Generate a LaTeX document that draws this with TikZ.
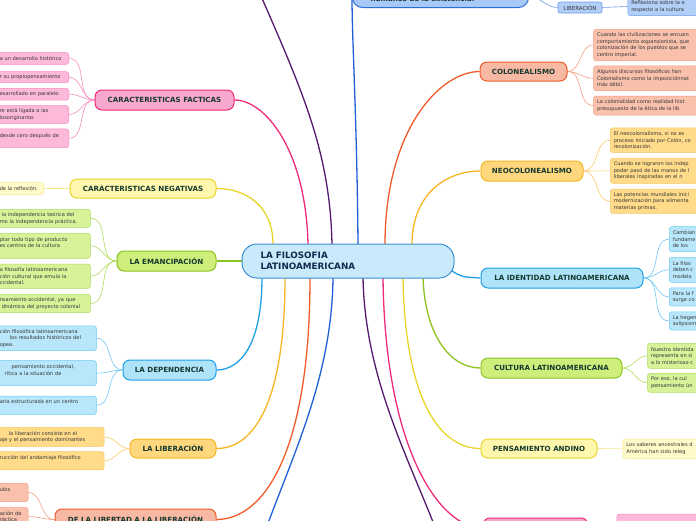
\documentclass[tikz,border=0pt]{standalone}
\usepackage{fontspec}
\setmainfont{DejaVu Sans}
\pgfdeclarelayer{bg}
\pgfsetlayers{bg,main}
\definecolor{pinkL}{HTML}{EE2A7B}\definecolor{pinkF}{HTML}{F8A8CE}\definecolor{pinkC}{HTML}{FDB9D9}\definecolor{pinkB}{HTML}{F48BBE}
\definecolor{yelL}{HTML}{E8D42A}\definecolor{yelF}{HTML}{FFF7AE}\definecolor{yelC}{HTML}{FFFAC8}\definecolor{yelB}{HTML}{F3E98A}
\definecolor{grnL}{HTML}{8CC21F}\definecolor{grnF}{HTML}{CDEE7B}\definecolor{grnC}{HTML}{D6F39A}\definecolor{grnB}{HTML}{AEDB5E}
\definecolor{bluL}{HTML}{1EA0E6}\definecolor{bluF}{HTML}{AEE3FA}\definecolor{bluC}{HTML}{B8E7FB}\definecolor{bluB}{HTML}{6CC8F2}
\definecolor{orgL}{HTML}{F7B523}\definecolor{orgF}{HTML}{FFD77D}\definecolor{orgC}{HTML}{FFDB8A}\definecolor{orgB}{HTML}{F9C766}
\definecolor{salL}{HTML}{F15A29}\definecolor{salF}{HTML}{F8B9A4}\definecolor{salC}{HTML}{F9C0AB}\definecolor{salB}{HTML}{F29E82}
\definecolor{ctrF}{HTML}{C9EAFA}\definecolor{ctrB}{HTML}{3D8ED3}
\definecolor{dkblue}{HTML}{1E5FD6}\definecolor{topF}{HTML}{A8C8F7}\definecolor{topB}{HTML}{2E6ED8}
\definecolor{topC}{HTML}{B2CFF7}\definecolor{topCB}{HTML}{6E9DE8}
\definecolor{purp}{HTML}{55196F}
\definecolor{maintext}{HTML}{16392F}\definecolor{ctrtext}{HTML}{13294B}\definecolor{kidtext}{HTML}{363636}
\newcommand\mainfs{\fontsize{7.1}{8.5}\selectfont\bfseries}
\newcommand\ctrfs{\fontsize{8.8}{10.5}\selectfont\bfseries}
\newcommand\childfs{\fontsize{5.1}{6.5}\selectfont}
\begin{document}
\begin{tikzpicture}[x=1pt,y=-1pt,
  mainnode/.style={draw, line width=1pt, rounded corners=7pt, font=\mainfs, text=maintext, inner sep=0pt, align=center},
  kid/.style={draw, line width=0.5pt, rounded corners=2.5pt, font=\childfs, text=kidtext, align=left, inner xsep=2pt, inner ysep=1pt},
  lkid/.style={kid, anchor=east},
  rkid/.style={kid, anchor=west, text width=130pt, inner xsep=3.5pt},
  mcon/.style={line width=1.3pt},
  kcon/.style={line width=0.6pt},
  pinkkid/.style={fill=pinkC, draw=pinkB},
  yelkid/.style={fill=yelC, draw=yelB},
  grnkid/.style={fill=grnC, draw=grnB},
  blukid/.style={fill=bluC, draw=bluB},
  orgkid/.style={fill=orgC, draw=orgB},
  salkid/.style={fill=salC, draw=salB}
]
\useasboundingbox (0,0) rectangle (696,520);
\clip (0,0) rectangle (696,520);

% centre
\node[draw=ctrB, fill=ctrF, line width=1pt, rounded corners=15pt, minimum width=212pt, minimum height=34pt,
      text width=175pt, inner xsep=18.5pt, inner ysep=0pt, align=left, font=\ctrfs, text=ctrtext] (ctr) at (348,261) {LA FILOSOFIA\\LATINOAMERICANA};

% main nodes left
\node[mainnode, fill=pinkF, draw=pinkL, minimum width=139pt, minimum height=20pt] (fac) at (164.5,100) {CARACTERISTICAS FACTICAS};
\node[mainnode, fill=yelF, draw=yelL, minimum width=146pt, minimum height=19pt] (neg) at (143,188.5) {CARACTERISTICAS NEGATIVAS};
\node[mainnode, fill=grnF, draw=grnL, minimum width=99pt, minimum height=20pt] (ema) at (166.5,261) {LA EMANCIPACIÓN};
\node[mainnode, fill=bluF, draw=bluL, minimum width=93pt, minimum height=20pt] (dep) at (169.5,370) {LA DEPENDENCIA};
\node[mainnode, fill=orgF, draw=orgL, minimum width=86pt, minimum height=19pt] (lib) at (173,448.5) {LA LIBERACIÓN};
\node[mainnode, fill=salF, draw=salL, minimum width=161pt, minimum height=21pt] (lil) at (135.5,519.5) {DE LA LIBERTAD A LA LIBERACIÓN};

% main nodes right
\node[mainnode, fill=salF, draw=salL, minimum width=87pt, minimum height=19pt] (col) at (523.5,71.5) {COLONEALISMO};
\node[mainnode, fill=orgF, draw=orgL, minimum width=102pt, minimum height=20pt] (neo) at (532,171) {NEOCOLONEALISMO};
\node[mainnode, fill=bluF, draw=bluL, minimum width=162pt, minimum height=20pt] (ide) at (562,278) {LA IDENTIDAD LATINOAMERICANA};
\node[mainnode, fill=grnF, draw=grnL, minimum width=141pt, minimum height=20pt] (cul) at (551.5,368) {CULTURA LATINOAMERICANA};
\node[mainnode, fill=yelF, draw=yelL, minimum width=116pt, minimum height=19pt] (andino) at (539,448.5) {PENSAMIENTO ANDINO};
\node[mainnode, fill=pinkF, draw=pinkL, minimum width=105pt, minimum height=20pt] (pk) at (535.5,528) {};

% top
\node[draw=topB, fill=topF, line width=1pt, rounded corners=10pt, anchor=south west, text width=140pt,
      inner xsep=18pt, inner ysep=6.3pt, align=left, font=\mainfs, text=maintext] (top) at (352,8) {\mbox{}\\humanos de la existencia.};
\node[draw=topCB, fill=topC, line width=0.6pt, rounded corners=2pt, minimum width=44pt, minimum height=11pt,
      inner sep=0pt, font=\fontsize{5.5}{6}\selectfont, text=kidtext] (libs) at (580,7.5) {LIBERACIÓN};
\node[rkid, draw=topCB, fill=topC, minimum height=18pt] (refl) at (627.5,6.5) {Reflexiona sobre la e\\respecto a la cultura};

% children left: facticas
\node[lkid, pinkkid, text width=67pt, minimum height=11.6pt] (f1) at (69,58.5) {a un desarrollo histórico};
\node[lkid, pinkkid, text width=67pt, minimum height=11pt] (f2) at (69,77.2) {r su propiopensamiento};
\node[lkid, pinkkid, text width=67pt, minimum height=11.7pt] (f3) at (69,94.2) {esarrollado en paralelo.};
\node[lkid, pinkkid, text width=67pt, minimum height=17.6pt] (f4) at (69,114.5) {re está ligada a las\\losoriginarios};
\node[lkid, pinkkid, text width=67pt, minimum height=18.7pt] (f5) at (69,138.3) {desde cero después de\\\mbox{}};
% negativas
\node[lkid, yelkid, text width=42pt, minimum height=11.6pt] (nk) at (44,188.5) {de la reflexión.};
% emancipacion
\node[lkid, grnkid, text width=88.7pt, minimum height=18pt] (e1) at (90.7,218.3) {\hspace*{2pt}la independencia teórica del\\mo la independencia práctica.};
\node[lkid, grnkid, text width=88.7pt, minimum height=25pt] (e2) at (90.7,245.8) {ptar todo tipo de producto\\es centros de la cultura\\\mbox{}};
\node[lkid, grnkid, text width=88.7pt, minimum height=24.3pt] (e3) at (90.7,276.2) {a filosofía latinoamericana\\ción cultural que emula la\\ccidental.};
\node[lkid, grnkid, text width=88.7pt, minimum height=18.4pt] (e4) at (90.7,303.5) {nsamiento occidental, ya que\\\hspace*{2pt}dinámica del proyecto colonial};
% dependencia
\node[lkid, blukid, text width=94.7pt, minimum height=24.7pt] (d1) at (96.7,338.3) {ción filosófica latinoamericana\\\hspace*{10pt}los resultados históricos del\\opea.};
\node[lkid, blukid, text width=94.7pt, minimum height=25pt] (d2) at (96.7,373.2) {\hspace*{12pt}pensamiento occidental,\\\hspace*{5pt}rítica a la situación de\\\mbox{}};
\node[lkid, blukid, text width=94.7pt, minimum height=18.3pt] (d3) at (96.7,405.2) {aria estructurada en un centro\\\mbox{}};
% liberacion
\node[lkid, orgkid, text width=102.3pt, minimum height=19.4pt] (l1) at (104.3,437) {\hspace*{9pt}la liberación consiste en el\\aje y el pensamiento dominantes};
\node[lkid, orgkid, text width=102.3pt, minimum height=18.3pt] (l2) at (104.3,460.8) {rucción del andamiaje filosófico\\\mbox{}};
% libertad
\node[lkid, salkid, text width=26.3pt, minimum height=18.4pt] (ll1) at (28.3,492.5) {ulos\\\mbox{}};
\node[lkid, salkid, text width=26.3pt, minimum height=18pt] (ll2) at (28.3,516.5) {ación de\\ráctica};

% children right
\node[rkid, salkid, minimum height=31.4pt] (c1) at (593.3,45) {Cuando las civilizaciones se encuen\\comportamiento expansionista, que\\colonización de los pueblos que se\\centro imperial.};
\node[rkid, salkid, minimum height=24.7pt] (c2) at (593.3,78.3) {Algunos discursos filosóficos han\\Colonialismo como la imposiciónnat\\más débil.};
\node[rkid, salkid, minimum height=19pt] (c3) at (593.3,105.5) {La colonialidad como realidad hist\\presupuesto de la ética de la lib};
\node[rkid, orgkid, minimum height=24.7pt] (n1) at (610,140.3) {El neocolonialismo, si no es\\proceso iniciado por Colón, co\\recolonización.};
\node[rkid, orgkid, minimum height=25pt] (n2) at (610,170.8) {Cuando se lograron las indep\\poder pasó de las manos de l\\liberales inspiradas en el n};
\node[rkid, orgkid, minimum height=24.3pt] (n3) at (610,201.2) {Las potencias mundiales inici\\modernización para alimenta\\materias primas.};
\node[rkid, blukid, minimum height=25pt] (i1) at (669,239.2) {Cambian\\fundame\\de los};
\node[rkid, blukid, minimum height=25pt] (i2) at (669,269.8) {La filos\\deben c\\modelo};
\node[rkid, blukid, minimum height=18.3pt] (i3) at (669,296.9) {Para la f\\surge co};
\node[rkid, blukid, minimum height=18.3pt] (i4) at (669,320.9) {La hegem\\solipsism};
\node[rkid, grnkid, minimum height=25pt] (u1) at (647.3,355.8) {Nuestra identida\\representa en si\\a lo misterioso c};
\node[rkid, grnkid, minimum height=19pt] (u2) at (647.3,382.8) {Por eso, la cul\\pensamiento ún};
\node[rkid, yelkid, minimum height=19.3pt] (a1) at (622.7,448.7) {Los saberes ancestrales d\\América han sido releg};
\node[rkid, pinkkid, minimum height=22pt] (pk1) at (616.7,525) {};

% start points on the centre node and free ends
\coordinate (s1) at (273,244.5);
\coordinate (s2) at (308,244.5);
\coordinate (s3) at (332,244.5);
\coordinate (s4) at (358,244.5);
\coordinate (s5) at (385,244.5);
\coordinate (s6) at (412,244.5);
\coordinate (s7) at (452,271);
\coordinate (s8) at (423,277.5);
\coordinate (s9) at (403,277.5);
\coordinate (s10) at (383,277.5);
\coordinate (s11) at (363,277.5);
\coordinate (s12) at (333,277.5);
\coordinate (s13) at (262,277.5);
\coordinate (s14) at (285,277.5);
\coordinate (s15) at (310,277.5);
\coordinate (ptop) at (254,-20);
\coordinate (pbot) at (440,540);
\coordinate (bbot) at (262,540);

\begin{pgfonlayer}{bg}
% main connectors
\draw[mcon, yelL] (s1) .. controls (273,205) and (245,188.5) .. (neg.east);
\draw[mcon, pinkL] (s2) .. controls (306,150) and (265,100) .. (fac.east);
\draw[mcon, purp] (s3) .. controls (330,150) and (302,90) .. (ptop);
\draw[mcon, dkblue] (s4) .. controls (357,120) and (352,40) .. (top.west);
\draw[mcon, salL] (s5) .. controls (385,130) and (440,71.5) .. (col.west);
\draw[mcon, orgL] (s6) .. controls (412,195) and (445,171) .. (neo.west);
\draw[mcon, bluL] (s7) .. controls (462,277) .. (ide.west);
\draw[mcon, grnL] (s8) .. controls (425,335) and (450,368) .. (cul.west);
\draw[mcon, yelL] (s9) .. controls (405,400) and (440,448.5) .. (andino.west);
\draw[mcon, pinkL] (s10) .. controls (385,450) and (440,528) .. (pk.west);
\draw[mcon, purp] (s11) .. controls (365,380) and (410,460) .. (pbot);
\draw[mcon, dkblue] (s12) .. controls (332,380) and (290,460) .. (bbot);
\draw[mcon, bluL] (s13) .. controls (262,345) and (240,370) .. (dep.east);
\draw[mcon, orgL] (s14) .. controls (285,400) and (255,448.5) .. (lib.east);
\draw[mcon, salL] (s15) .. controls (310,450) and (265,519.5) .. (lil.east);
\draw[mcon, grnL] (ctr.west) -- (ema.east);
% top small connectors
\draw[kcon, topCB] (top.east) to[out=0,in=180] (libs.west);
\draw[kcon, topCB] (libs.east) -- (refl.west);
% child connectors left
\foreach \k in {f1,f2,f3,f4,f5} \draw[kcon, pinkB] (\k.east) to[out=0,in=180] (fac.west);
\draw[kcon, yelB] (nk.east) -- (neg.west);
\foreach \k in {e1,e2,e3,e4} \draw[kcon, grnB] (\k.east) to[out=0,in=180] (ema.west);
\foreach \k in {d1,d2,d3} \draw[kcon, bluB] (\k.east) to[out=0,in=180] (dep.west);
\foreach \k in {l1,l2} \draw[kcon, orgB] (\k.east) to[out=0,in=180] (lib.west);
\foreach \k in {ll1,ll2} \draw[kcon, salB] (\k.east) to[out=0,in=180] (lil.west);
% child connectors right
\foreach \k in {c1,c2,c3} \draw[kcon, salB] (col.east) to[out=0,in=180] (\k.west);
\foreach \k in {n1,n2,n3} \draw[kcon, orgB] (neo.east) to[out=0,in=180] (\k.west);
\foreach \k in {i1,i2,i3,i4} \draw[kcon, bluB] (ide.east) to[out=0,in=180] (\k.west);
\foreach \k in {u1,u2} \draw[kcon, grnB] (cul.east) to[out=0,in=180] (\k.west);
\draw[kcon, yelB] (andino.east) -- (a1.west);
\draw[kcon, pinkB] (pk.east) to[out=0,in=180] (pk1.west);
\end{pgfonlayer}
\end{tikzpicture}
\end{document}
